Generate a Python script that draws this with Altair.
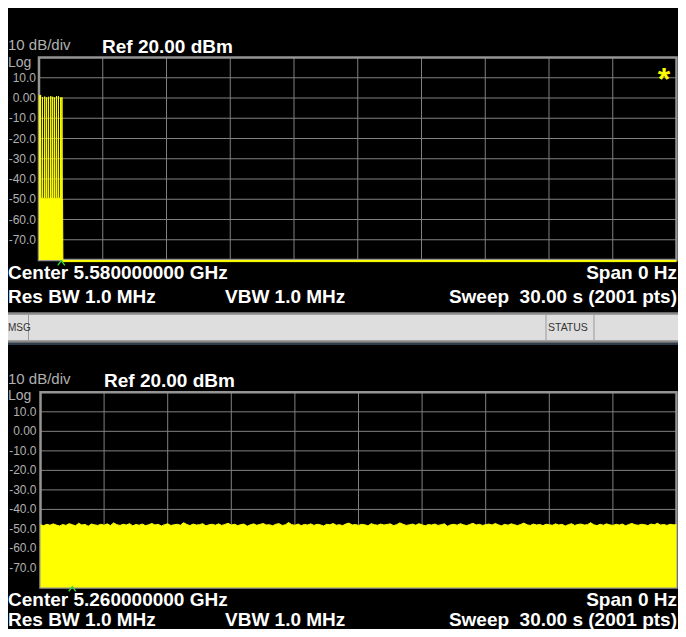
import altair as alt
import pandas as pd

# ---------------- data ----------------
# upper trace: sample index (0..2000 over the 30 s sweep) and level in dBm
top_sample = [0, 1, 2, 4, 5, 6, 10, 11, 12, 17, 18, 19, 23, 24, 25, 29, 30, 31,
              36, 37, 38, 42, 43, 44, 48, 49, 50, 54, 55, 56, 60, 61, 62, 67, 68, 69,
              71, 72, 73, 74, 75, 2000]
top_dbm = [1.6, 1.2, -49.3, -49.8, 1.5, -49.6, -49.2, 0.5, -49.7, -49.4, 0.7, -50.0,
           -49.5, 0.3, -49.6, -49.9, 0.6, -49.4, -49.8, 0.9, -49.5, -49.3, 0.6, -49.8,
           -49.6, 0.3, -49.4, -50.0, 0.9, -49.5, -49.7, 0.9, -49.3, -49.6, 0.3, -49.8,
           -49.5, 0.3, -49.6, -49.9, -80.8, -80.8]

# lower trace: one reading every 10 samples (201 readings)
bot_dbm = [
    -47.9, -48.3, -47.6, -48.1, -47.4, -48.0, -48.5, -47.7, -48.2, -47.3,
    -47.8, -48.4, -47.1, -48.0, -47.7, -48.6, -47.5, -47.9, -48.2, -47.6,
    -48.1, -47.4, -48.3, -46.9, -47.8, -48.2, -47.6, -48.0, -47.3, -48.4,
    -47.7, -48.1, -47.5, -48.3, -47.9, -47.2, -48.0, -47.6, -48.5, -47.8,
    -47.4, -48.2, -47.9, -47.6, -48.1, -46.8, -47.7, -48.3, -47.5, -48.0,
    -47.8, -47.3, -48.4, -47.9, -47.6, -48.1, -47.4, -48.2, -47.7, -47.1,
    -48.0, -47.6, -48.3, -47.8, -47.5, -48.6, -47.9, -47.4, -48.1, -47.7,
    -47.2, -48.0, -47.8, -48.4, -47.6, -47.3, -48.2, -47.9, -46.7, -47.8,
    -48.1, -47.5, -48.3, -47.7, -48.0, -47.4, -48.2, -47.6, -47.9, -48.5,
    -47.6, -47.9, -47.2, -48.1, -47.8, -48.3, -47.5, -47.0, -48.0, -47.7,
    -48.2, -47.6, -47.9, -48.4, -47.3, -47.8, -48.1, -47.5, -48.0, -47.7,
    -47.4, -48.3, -47.8, -46.9, -47.6, -48.2, -47.9, -47.5, -48.1, -47.3,
    -47.9, -48.4, -47.7, -48.0, -47.5, -48.2, -47.8, -47.4, -48.6, -47.9,
    -47.6, -48.1, -47.3, -47.9, -48.3, -47.7, -47.1, -48.0, -47.6, -48.2,
    -47.8, -47.5, -48.0, -47.2, -47.9, -48.4, -47.6, -48.1, -47.4, -47.8,
    -48.3, -47.7, -47.0, -47.9, -48.2, -47.5, -48.0, -47.7, -48.3, -47.6,
    -47.9, -48.1, -47.4, -48.0, -47.6, -48.5, -47.8, -47.3, -48.2, -47.7,
    -47.5, -48.0, -47.8, -46.8, -47.9, -48.3, -47.6, -48.1, -47.4, -47.9,
    -48.2, -47.6, -48.0, -47.5, -48.4, -47.7, -47.2, -47.9, -48.1, -47.6,
    -47.8, -48.3, -47.5, -47.9, -47.1, -48.0, -47.7, -48.2, -47.6, -47.9,
    -47.8,
]
bot_step = 10

# axes / grid
x_grid_samples = [200, 400, 600, 800, 1000, 1200, 1400, 1600, 1800]
y_ticks = [10, 0, -10, -20, -30, -40, -50, -60, -70]
y_tick_labels = ["10.0", "0.00", "-10.0", "-20.0", "-30.0", "-40.0", "-50.0", "-60.0", "-70.0"]
x_domain = [0, 2000]
y_domain = [-80, 20]

# marker positions (sample index)
top_marker = 70
bot_marker = 100

# annotation texts
scale_txt = "10 dB/div"
log_txt = "Log"
ref_txt = "Ref 20.00 dBm"
top_center = "Center 5.580000000 GHz"
bot_center = "Center 5.260000000 GHz"
span_txt = "Span 0 Hz"
rbw_txt = "Res BW 1.0 MHz"
vbw_txt = "VBW 1.0 MHz"
sweep_txt = "Sweep \u00a030.00 s (2001 pts)"
msg_txt = "MSG"
status_txt = "STATUS"

# ---------------- styling ----------------
W, H = 670, 621
FONT = "Liberation Sans, Arial, Helvetica, sans-serif"
YEL = "#ffff00"
GRID = "#808080"
FRAME = "#959595"
LBL = "#b0b0b0"
GREEN = "#33dd33"
RIGHT = 669

top_df = pd.DataFrame({"s": top_sample, "db": top_dbm})
bot_df = pd.DataFrame({"s": [i * bot_step for i in range(len(bot_dbm))], "db": bot_dbm})
xg_df = pd.DataFrame({"s": x_grid_samples})
yt_df = pd.DataFrame({"db": y_ticks, "label": y_tick_labels})
one = pd.DataFrame({"k": [0]})


def txt(s, x, y, size, color, weight="normal", align="left", font=FONT, baseline="middle"):
    return alt.Chart(one).mark_text(
        fontSize=size, color=color, fontWeight=weight, align=align,
        baseline=baseline, font=font,
    ).encode(x=alt.value(x), y=alt.value(y), text=alt.value(s))


def panel(df, xr, yr, marker, marker_y, label_x):
    xs = alt.Scale(domain=x_domain, range=xr, nice=False, zero=False)
    ys = alt.Scale(domain=y_domain, range=yr, nice=False, zero=False)
    layers = []
    layers.append(alt.Chart(xg_df).mark_rule(color=GRID, strokeWidth=1).encode(
        x=alt.X("s:Q", scale=xs, axis=None),
        y=alt.Y(datum=y_domain[0], scale=ys, axis=None),
        y2=alt.datum(y_domain[1])))
    layers.append(alt.Chart(yt_df).mark_rule(color=GRID, strokeWidth=1).encode(
        y=alt.Y("db:Q", scale=ys, axis=None),
        x=alt.X(datum=x_domain[0], scale=xs, axis=None),
        x2=alt.datum(x_domain[1])))
    layers.append(alt.Chart(one).mark_rect(filled=False, stroke=FRAME, strokeWidth=2.5).encode(
        x=alt.X(datum=x_domain[0], scale=xs, axis=None), x2=alt.datum(x_domain[1]),
        y=alt.Y(datum=y_domain[0], scale=ys, axis=None), y2=alt.datum(y_domain[1])))
    layers.append(alt.Chart(df).mark_area(color=YEL, interpolate="linear", opacity=1).encode(
        x=alt.X("s:Q", scale=xs, axis=None),
        y=alt.Y("db:Q", scale=ys, axis=None),
        y2=alt.datum(y_domain[0])))
    layers.append(alt.Chart(df).mark_line(color=YEL, strokeWidth=1, interpolate="linear").encode(
        x=alt.X("s:Q", scale=xs, axis=None),
        y=alt.Y("db:Q", scale=ys, axis=None)))
    layers.append(alt.Chart(yt_df).mark_text(
        align="right", baseline="middle", fontSize=12, font=FONT, color=LBL).encode(
        y=alt.Y("db:Q", scale=ys, axis=None), x=alt.value(label_x), text="label:N"))
    layers.append(alt.Chart(one).mark_point(
        shape="M-1,0.7L0,-0.7L1,0.7", filled=False, stroke=GREEN, strokeWidth=1.3,
        size=50, opacity=1).encode(
        x=alt.X(datum=marker, scale=xs, axis=None), y=alt.value(marker_y)))
    return layers


layers = []
# upper window
layers += panel(top_df, [31, 668.5], [252, 49.5], top_marker, 255, 28)
layers.append(txt(scale_txt, 0, 37, 15, LBL))
layers.append(txt(log_txt, 0, 54.5, 14, LBL))
layers.append(txt(ref_txt, 94, 39, 19, "white", "bold"))
layers.append(txt("*", 656, 82, 32, YEL, "bold", align="center", baseline="alphabetic"))
layers.append(txt(top_center, 0, 265, 19, "white", "bold"))
layers.append(txt(span_txt, RIGHT, 265, 19, "white", "bold", align="right"))
layers.append(txt(rbw_txt, 0, 289, 19, "white", "bold"))
layers.append(txt(vbw_txt, 217, 289, 19, "white", "bold"))
layers.append(txt(sweep_txt, RIGHT, 289, 19, "white", "bold", align="right"))

# message bar
layers.append(alt.Chart(one).mark_rect(fill="#dedede", stroke="#8a8a8a", strokeWidth=2.5).encode(
    x=alt.value(-2), x2=alt.value(W + 2), y=alt.value(305.5), y2=alt.value(333.5)))
for dx in (20.5, 538, 586):
    layers.append(alt.Chart(one).mark_rule(color="#9a9a9a", strokeWidth=1).encode(
        x=alt.value(dx), y=alt.value(307), y2=alt.value(332)))
layers.append(alt.Chart(one).mark_rule(color="#2e3b48", strokeWidth=2).encode(
    x=alt.value(0), x2=alt.value(W), y=alt.value(336)))
layers.append(txt(msg_txt, 0, 319.5, 10, "#333333"))
layers.append(txt(status_txt, 540, 319.5, 10.5, "#333333"))

# lower window
layers += panel(bot_df, [32.5, 668.5], [579.5, 384.3], bot_marker, 581, 28.5)
layers.append(txt(scale_txt, 0, 371, 15, LBL))
layers.append(txt(log_txt, 0, 388, 14, LBL))
layers.append(txt(ref_txt, 96, 373, 19, "white", "bold"))
layers.append(txt(bot_center, 0, 592, 19, "white", "bold"))
layers.append(txt(span_txt, RIGHT, 592, 19, "white", "bold", align="right"))
layers.append(txt(rbw_txt, 0, 612, 19, "white", "bold"))
layers.append(txt(vbw_txt, 217, 612, 19, "white", "bold"))
layers.append(txt(sweep_txt, RIGHT, 612, 19, "white", "bold", align="right"))

chart = alt.layer(*layers).resolve_scale(x="independent", y="independent").properties(
    width=W, height=H, padding=0, background="#000000",
    autosize=alt.AutoSizeParams(type="none"),
).configure_view(strokeWidth=0)

chart.save("out.html", embed_options={"renderer": "svg", "actions": False})
